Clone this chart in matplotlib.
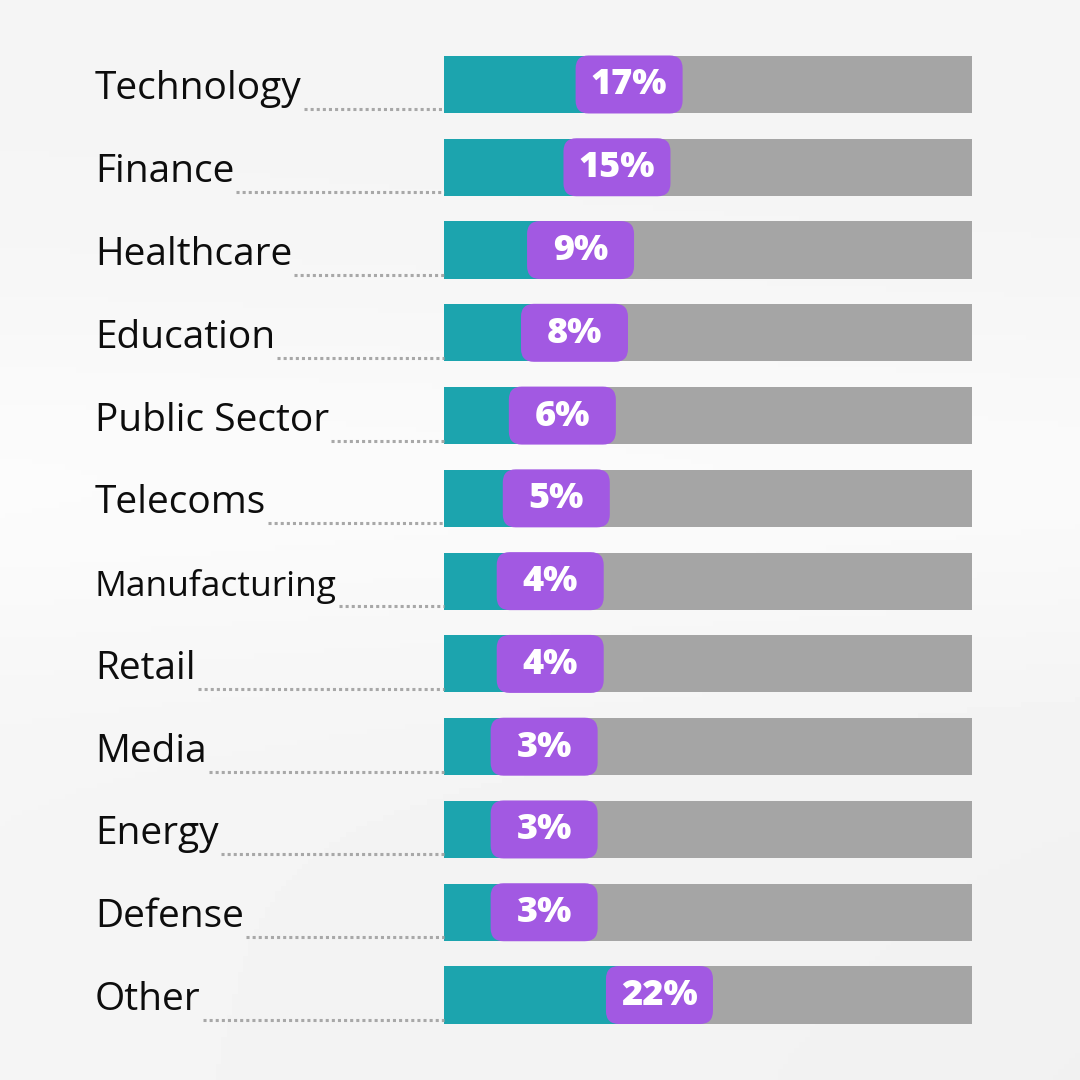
import numpy as np
import matplotlib.pyplot as plt
from matplotlib.patches import FancyBboxPatch
from matplotlib.transforms import blended_transform_factory

# Data
sectors = ['Technology', 'Finance', 'Healthcare', 'Education', 'Public Sector',
           'Telecoms', 'Manufacturing', 'Retail', 'Media', 'Energy', 'Defense', 'Other']
shares = [17, 15, 9, 8, 6, 5, 4, 4, 3, 3, 3, 22]

TEAL = '#1ca4ae'
GREY = '#a5a5a5'
PURPLE = '#a259e2'
DOTS = '#a8a8a8'

W = H = 1080
fig = plt.figure(figsize=(10.8, 10.8), dpi=100)

# soft light background
bg = fig.add_axes([0, 0, 1, 1])
yy, xx = np.mgrid[0:1:200j, 0:1:200j]
shade = 0.96 + 0.025 * np.exp(-((yy - 0.55) ** 2) / 0.03) - 0.015 * xx * (1 - yy)
bg.imshow(shade, cmap='gray', vmin=0, vmax=1, extent=[0, 1, 0, 1], aspect='auto', origin='lower')
bg.set_axis_off()

# bar axes: pixel 444..972 horizontally
x0_px, x1_px = 444, 972
top_px, bot_px = 43.1, 1036.4
ax = fig.add_axes([x0_px / W, 1 - bot_px / H, (x1_px - x0_px) / W, (bot_px - top_px) / H])
ax.patch.set_alpha(0)
xmin, xmax = -13.5, 73.5
ax.set_xlim(xmin, xmax)
ax.set_ylim(len(sectors) - 0.5, -0.5)
ax.set_axis_off()

ypos = np.arange(len(sectors))
bar_h = 0.69
ax.barh(ypos, xmax - xmin, left=xmin, height=bar_h, color=GREY)
ax.barh(ypos, np.array(shares) - xmin, left=xmin, height=bar_h, color=TEAL)

# pills
px_x = (xmax - xmin) / (x1_px - x0_px)      # data units per pixel in x
px_y = len(sectors) / (bot_px - top_px)     # data units per pixel in y
pill_w = 107 * px_x
pill_h = 58 * px_y
for y, v in zip(ypos, shares):
    box = FancyBboxPatch((v - pill_w / 2, y - pill_h / 2), pill_w, pill_h,
                         boxstyle='round,pad=0,rounding_size=%f' % (13 * px_x),
                         mutation_aspect=px_y / px_x, fc=PURPLE, ec='none', zorder=3)
    ax.add_patch(box)
    ax.text(v, y + 1 * px_y, f'{v}%', color='white', fontsize=26, fontweight='heavy',
            family='Open Sans', ha='center', va='center', zorder=4)

# labels with dotted leaders
trans = blended_transform_factory(fig.transFigure, ax.transData)
renderer = fig.canvas.get_renderer()
max_w = 242
for y, name in zip(ypos, sectors):
    t = ax.text(95 / W, y + 15 * px_y, name, transform=trans, fontsize=28,
                family='Open Sans', color='#0d0d0d', ha='left', va='baseline')
    w = t.get_window_extent(renderer).width
    if w > max_w:
        t.set_fontsize(28 * max_w / w)
        w = t.get_window_extent(renderer).width
    start = xmin - (x0_px - (95 + w + 2)) * px_x
    ax.plot([start, xmin], [y + 25 * px_y, y + 25 * px_y], color=DOTS, lw=2.2,
            ls=(0, (1, 1)), solid_capstyle='butt', clip_on=False)

fig.savefig('out.png', dpi=100)
